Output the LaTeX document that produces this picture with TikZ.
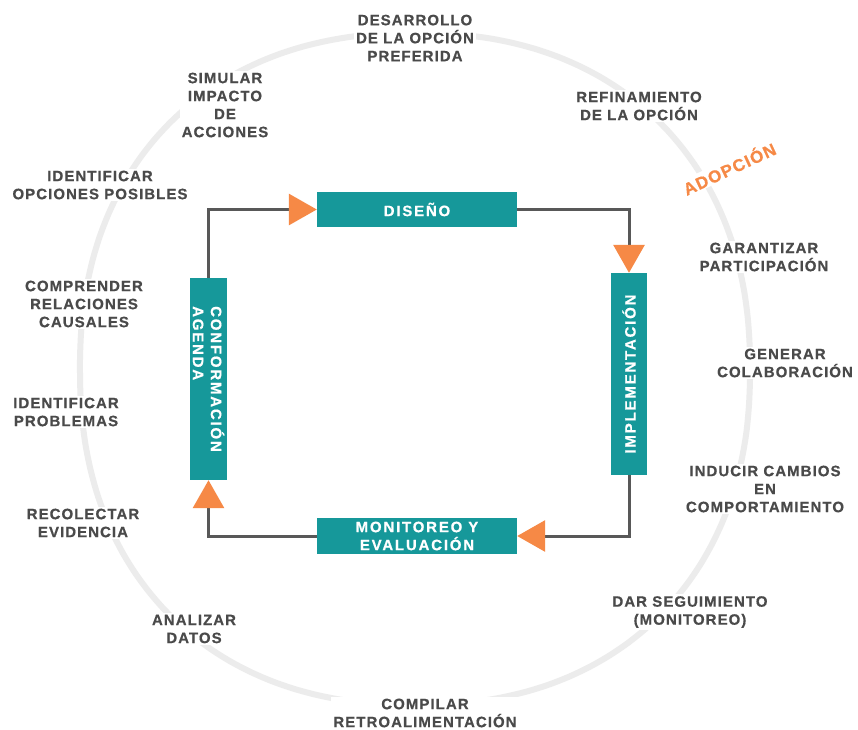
\documentclass[tikz,border=0pt]{standalone}
\usepackage{fontspec}
\setmainfont{Liberation Sans}[LetterSpace=7, BoldFeatures={FakeBold=0.6}]
\newfontfamily\stagefont{Liberation Sans}[LetterSpace=12, BoldFeatures={FakeBold=0.6}]
\usetikzlibrary{arrows.meta}
\definecolor{teal1}{RGB}{22,152,154}
\definecolor{orng}{RGB}{246,137,70}
\definecolor{ink}{RGB}{74,74,74}
\definecolor{wire}{RGB}{88,88,88}
\definecolor{ringgray}{RGB}{236,236,236}
\begin{document}
\begin{tikzpicture}[x=1pt,y=-1pt,
  lbl/.style={text=ink, font=\fontsize{15}{18}\selectfont\bfseries, align=center, fill=white, inner sep=2pt},
  stage/.style={fill=teal1, inner sep=0pt},
  stagetxt/.style={text=white, font=\stagefont\fontsize{15}{18}\selectfont\bfseries, inner sep=0pt},
  flow/.style={draw=wire, line width=3pt, -{Triangle[length=28pt,width=31pt,color=orng]}},
  ring/.style={draw=ringgray, line width=6pt}]

% canvas
\fill[white] (0,0) rectangle (858,729);
\useasboundingbox (0,0) rectangle (858,729);

% outer cycle ring (slightly squarish round curve)
\draw[ring] plot[domain=1:357, samples=90, smooth cycle, variable=\t]
  ({415+335*sign(cos(\t))*pow(abs(cos(\t)),0.9)},
   {369+336*sign(sin(\t))*pow(abs(sin(\t)),0.9)});

% activities around the ring
\node[lbl] (desarrollo) at (415,38) {DESARROLLO\\DE LA OPCIÓN\\PREFERIDA};
\node[lbl] (simular) at (225,105) {SIMULAR\\IMPACTO\\DE\\ACCIONES};
\node[lbl] (refinamiento) at (639,106) {REFINAMIENTO\\DE LA OPCIÓN};
\node[lbl, text=orng, font=\fontsize{17}{20}\selectfont\bfseries, rotate=25, inner sep=1pt] (adopcion) at (729,168) {ADOPCIÓN};
\node[lbl] (idopc) at (100,185) {IDENTIFICAR\\OPCIONES POSIBLES};
\node[lbl] (garantizar) at (764,257) {GARANTIZAR\\PARTICIPACIÓN};
\node[lbl] (comprender) at (84,304) {COMPRENDER\\RELACIONES\\CAUSALES};
\node[lbl] (generar) at (785,363) {GENERAR\\COLABORACIÓN};
\node[lbl] (idprob) at (66,412) {IDENTIFICAR\\PROBLEMAS};
\node[lbl] (inducir) at (765,489) {INDUCIR CAMBIOS\\EN\\COMPORTAMIENTO};
\node[lbl] (recolectar) at (83,523) {RECOLECTAR\\EVIDENCIA};
\node[lbl] (seguimiento) at (690,612) {DAR SEGUIMIENTO\\(MONITOREO)};
\node[lbl] (analizar) at (194,629) {ANALIZAR\\DATOS};
\node[lbl] (compilar) at (425,713) {COMPILAR\\RETROALIMENTACIÓN};

% the four stages of the cycle
\node[stage, text=white, font=\stagefont\fontsize{15}{18}\selectfont\bfseries,
      minimum width=200pt, minimum height=35pt] (ds) at (417,209.5) {DISEÑO};
\node[stage, text=white, font=\stagefont\fontsize{15}{18}\selectfont\bfseries, align=center,
      minimum width=200pt, minimum height=36pt] (me) at (417,536) {MONITOREO Y\\EVALUACIÓN};
\node[stage, minimum width=37pt, minimum height=202pt] (cf) at (208.5,379) {};
\node[stagetxt, rotate=-90, align=left] (cftxt) at (cf) {CONFORMACIÓN\\AGENDA};
\node[stage, minimum width=36pt, minimum height=202pt] (im) at (629,374) {};
\node[stagetxt, rotate=90] (imtxt) at (im) {IMPLEMENTACIÓN};

% connectors between stages
\draw[flow] (cf.north) |- (ds.west);
\draw[flow] (ds.east) -| (im.north);
\draw[flow] (im.south) |- (me.east);
\draw[flow] (me.west) -| (cf.south);
\end{tikzpicture}
\end{document}
